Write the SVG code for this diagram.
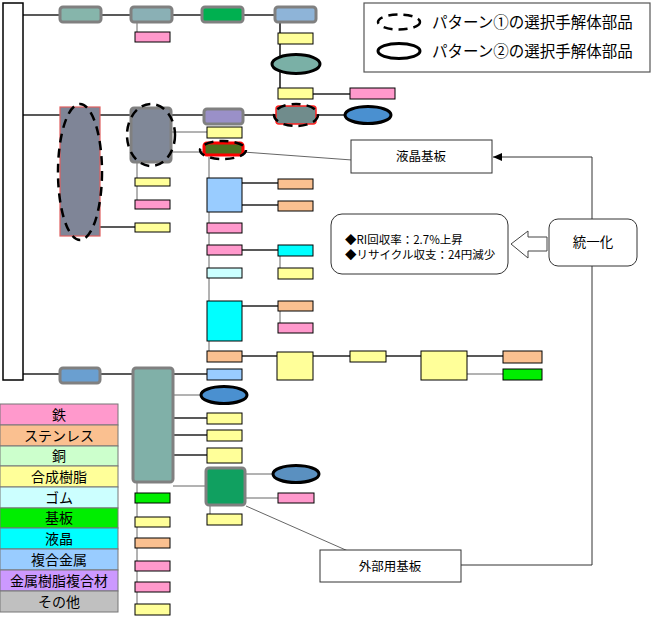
<svg xmlns="http://www.w3.org/2000/svg" width="654" height="629" viewBox="0 0 654 629">
<style>
.g{stroke:#808080;stroke-width:3}
.b{stroke:#000;stroke-width:1}
.ln{stroke:#222;stroke-width:1.6;fill:none}
.lt{stroke:#666;stroke-width:1;fill:none}
.fe{fill:#ff99cc}.fs{fill:#fac090}.fc{fill:#ccffcc}.fp{fill:#ffff99}.fr{fill:#ccffff}.fk{fill:#00ee00}.fl{fill:#00ffff}.fm{fill:#99ccff}.fx{fill:#cc99ff}.fo{fill:#c0c0c0}
.d1{fill:none;stroke:#000;stroke-width:2.5;stroke-dasharray:9 6}
.d2{fill:none;stroke:#000;stroke-width:3}
.t{font-family:"Noto Sans CJK JP","Liberation Sans",sans-serif;fill:#000}
.lg{stroke:#777;stroke-width:1}
</style>
<defs>
<marker id="ah" markerWidth="10" markerHeight="10" refX="9" refY="5" orient="auto" markerUnits="userSpaceOnUse"><path d="M0,1 L9,5 L0,9 Z" fill="#000"/></marker>
</defs>

<g id="connectors">
<path class="ln" d="M23,15 H275"/>
<path class="lt" d="M137,23 V32"/>
<path class="ln" d="M280,23 V94"/>
<path class="ln" d="M313,94 H350"/>
<path class="ln" d="M23,115 H350"/>
<path class="ln" d="M100,227 H135"/>
<path class="lt" d="M137,162 V205"/>
<path class="lt" d="M172,132 H207"/>
<path class="lt" d="M172,152 H205"/>
<path class="lt" d="M209,157 V356"/>
<path class="ln" d="M242,183 H278"/>
<path class="ln" d="M242,205 H278"/>
<path class="ln" d="M242,250 H278"/>
<path class="lt" d="M280,256 V270"/>
<path class="ln" d="M242,306 H278"/>
<path class="lt" d="M280,311 V325"/>
<path class="ln" d="M242,356 H277"/>
<path class="ln" d="M313,356 H350"/>
<path class="ln" d="M386,356 H421"/>
<path class="ln" d="M467,356 H503"/>
<path class="lt" d="M467,374 H503"/>
<path class="ln" d="M23,374 H132"/>
<path class="ln" d="M173,374 H207"/>
<path class="lt" d="M173,395 H201"/>
<path class="ln" d="M173,418 H207"/>
<path class="ln" d="M173,435 H207"/>
<path class="ln" d="M173,455 H207"/>
<path class="lt" d="M173,486 H205"/>
<path class="lt" d="M137,482 V610"/>
<path class="lt" d="M245,474 H272"/>
<path class="lt" d="M245,498 H278"/>
<path class="lt" d="M210,505 V514"/>
<path class="lt" d="M243,152 L352,160" stroke="#333"/>
<path class="lt" d="M246,506 L348,551" stroke="#333"/>
<path d="M592,219 V157 H493" fill="none" stroke="#333" stroke-width="1" marker-end="url(#ah)"/>
<path d="M592,266 V565 H461" fill="none" stroke="#333" stroke-width="1"/>
</g>

<g id="root"><rect x="3" y="3" width="20" height="377" fill="#fff" stroke="#000" stroke-width="1.5"/></g>

<g id="n1"><rect class="g" x="60" y="7" width="41" height="15" rx="3" fill="#86b5ab"/></g>
<g id="n2"><rect class="g" x="131" y="7" width="41" height="15" rx="3" fill="#8ab0b5"/></g>
<g id="n2a"><rect class="b fe" x="135" y="32" width="35" height="10"/></g>
<g id="n3"><rect class="g" x="202" y="7" width="41" height="15" rx="3" fill="#00b050"/></g>
<g id="n4"><rect class="g" x="275" y="7" width="41" height="15" rx="3" fill="#8eb4d8"/></g>
<g id="n4a"><rect class="b fp" x="278" y="33" width="35" height="11"/></g>
<g id="n4b"><ellipse cx="296" cy="64" rx="24" ry="9.5" fill="#7ab0a6"/><ellipse class="d2" cx="296" cy="64" rx="24" ry="9.5"/></g>
<g id="n4c"><rect class="b fp" x="278" y="88" width="35" height="11"/></g>
<g id="n4d"><rect class="b fe" x="350" y="88" width="45" height="11"/></g>

<g id="n5"><rect x="60" y="107" width="40" height="129" fill="#7f8597" stroke="#e06060" stroke-width="1.2"/><ellipse class="d1" cx="80" cy="172" rx="22" ry="68"/></g>
<g id="n6"><rect class="g" x="131" y="108" width="40" height="54" rx="3" fill="#808898"/><ellipse class="d1" cx="151" cy="135" rx="24" ry="31"/></g>
<g id="n6a"><rect class="b fp" x="135" y="178" width="35" height="8"/></g>
<g id="n6b"><rect class="b fe" x="135" y="200" width="35" height="9"/></g>
<g id="n5a"><rect class="b fp" x="135" y="223" width="35" height="9"/></g>
<g id="n7"><rect class="g" x="204" y="109" width="39" height="15" rx="3" fill="#9a90c8"/></g>
<g id="n8"><rect x="276" y="106" width="40" height="18" rx="3" fill="#708c8c" stroke="#ff2020" stroke-width="1.5"/><ellipse class="d1" cx="296" cy="115" rx="22" ry="11"/></g>
<g id="n9"><ellipse cx="368" cy="115" rx="23" ry="8.5" fill="#4a90d0"/><ellipse class="d2" cx="368" cy="115" rx="23" ry="8.5"/></g>
<g id="n10"><rect class="b fp" x="207" y="127" width="35" height="11"/></g>
<g id="n11"><rect x="204" y="143" width="39" height="12" rx="3" fill="#4c7020" stroke="#ff0000" stroke-width="3"/><ellipse class="d1" cx="223" cy="150" rx="23" ry="9"/></g>
<g id="n12"><rect class="b fm" x="207" y="178" width="35" height="34"/></g>
<g id="n12a"><rect class="b fs" x="278" y="179" width="35" height="10"/></g>
<g id="n12b"><rect class="b fs" x="278" y="201" width="35" height="10"/></g>
<g id="n13"><rect class="b fe" x="207" y="223" width="35" height="10"/></g>
<g id="n14"><rect class="b fe" x="207" y="245" width="35" height="10"/></g>
<g id="n14a"><rect class="b fl" x="278" y="245" width="35" height="11"/></g>
<g id="n14b"><rect class="b fp" x="278" y="268" width="35" height="11"/></g>
<g id="n15"><rect class="b fr" x="207" y="268" width="35" height="10"/></g>
<g id="n16"><rect class="b fl" x="207" y="301" width="35" height="40"/></g>
<g id="n16a"><rect class="b fs" x="278" y="301" width="35" height="10"/></g>
<g id="n16b"><rect class="b fe" x="278" y="323" width="35" height="10"/></g>
<g id="n17"><rect class="b fs" x="207" y="351" width="35" height="11"/></g>
<g id="n18"><rect class="b fp" x="277" y="352" width="36" height="28"/></g>
<g id="n19"><rect class="b fp" x="350" y="351" width="36" height="11"/></g>
<g id="n20"><rect class="b fp" x="421" y="351" width="46" height="29"/></g>
<g id="n21"><rect class="b fs" x="503" y="351" width="39" height="12"/></g>
<g id="n22"><rect class="b fk" x="503" y="369" width="39" height="11"/></g>

<g id="n23"><rect class="g" x="60" y="368" width="40" height="15" rx="3" fill="#6a9fd0"/></g>
<g id="n24"><rect class="g" x="133" y="368" width="40" height="114" rx="3" fill="#80b0a8"/></g>
<g id="n24a"><rect class="b fm" x="207" y="369" width="35" height="11"/></g>
<g id="n24b"><ellipse cx="224" cy="395" rx="23" ry="8.5" fill="#4a90d0"/><ellipse class="d2" cx="224" cy="395" rx="23" ry="8.5"/></g>
<g id="n24c"><rect class="b fp" x="207" y="413" width="35" height="11"/></g>
<g id="n24d"><rect class="b fp" x="207" y="430" width="35" height="11"/></g>
<g id="n24e"><rect class="b fp" x="207" y="448" width="35" height="15"/></g>
<g id="n25"><rect class="g" x="206" y="468" width="39" height="37" rx="3" fill="#10a060"/></g>
<g id="n25a"><ellipse cx="296" cy="474" rx="23" ry="8.5" fill="#5a90c0"/><ellipse class="d2" cx="296" cy="474" rx="23" ry="8.5"/></g>
<g id="n25b"><rect class="b fe" x="278" y="493" width="36" height="10"/></g>
<g id="n25c"><rect class="b fp" x="207" y="514" width="35" height="11"/></g>
<g id="n26"><rect class="b fk" x="135" y="493" width="35" height="10"/></g>
<g id="n27"><rect class="b fp" x="135" y="517" width="35" height="10"/></g>
<g id="n28"><rect class="b fs" x="135" y="538" width="35" height="10"/></g>
<g id="n29"><rect class="b fe" x="135" y="561" width="35" height="10"/></g>
<g id="n30"><rect class="b fe" x="135" y="582" width="35" height="10"/></g>
<g id="n31"><rect class="b fp" x="135" y="604" width="35" height="11"/></g>

<g id="legend-pattern">
<rect x="364" y="3" width="286" height="69" fill="#fff" stroke="#555" stroke-width="1.2"/>
<ellipse class="d1" cx="399" cy="22" rx="21" ry="7.5" stroke-dasharray="7 5" stroke-width="2"/>
<ellipse class="d2" cx="399" cy="51" rx="21" ry="7.5" stroke-width="2.5"/>
<text class="t" x="432" y="28" font-size="15.5">パターン①の選択手解体部品</text>
<text class="t" x="432" y="57" font-size="15.5">パターン②の選択手解体部品</text>
</g>

<g id="legend-material" class="t" font-size="14" text-anchor="middle">
<rect class="lg fe" x="0" y="404" width="118" height="21"/><text x="59" y="420">鉄</text>
<rect class="lg fs" x="0" y="425" width="118" height="21"/><text x="59" y="441">ステンレス</text>
<rect class="lg fc" x="0" y="446" width="118" height="20"/><text x="59" y="461">銅</text>
<rect class="lg fp" x="0" y="466" width="118" height="21"/><text x="59" y="482">合成樹脂</text>
<rect class="lg fr" x="0" y="487" width="118" height="21"/><text x="59" y="503">ゴム</text>
<rect class="lg fk" x="0" y="508" width="118" height="20"/><text x="59" y="523">基板</text>
<rect class="lg fl" x="0" y="528" width="118" height="21"/><text x="59" y="544">液晶</text>
<rect class="lg fm" x="0" y="549" width="118" height="21"/><text x="59" y="565">複合金属</text>
<rect class="lg fx" x="0" y="570" width="118" height="21"/><text x="59" y="586">金属樹脂複合材</text>
<rect class="lg fo" x="0" y="591" width="118" height="21"/><text x="59" y="607">その他</text>
</g>

<g id="callout-lcd"><rect x="351" y="140" width="141" height="33" fill="#fff" stroke="#333" stroke-width="1"/><text class="t" x="421" y="161" font-size="12.5" text-anchor="middle">液晶基板</text></g>
<g id="callout-ext"><rect x="320" y="550" width="141" height="32" fill="#fff" stroke="#333" stroke-width="1"/><text class="t" x="390" y="571" font-size="12.5" text-anchor="middle">外部用基板</text></g>
<g id="unify"><rect x="549" y="219" width="88" height="47" rx="9" fill="#fff" stroke="#333" stroke-width="1"/><text class="t" x="593" y="247" font-size="13.5" text-anchor="middle">統一化</text></g>
<g id="info"><rect x="331" y="214" width="177" height="60" rx="11" fill="#fff" stroke="#333" stroke-width="1"/>
<text class="t" x="345" y="244" font-size="11.5">◆RI回収率：2.7%上昇</text>
<text class="t" x="345" y="259" font-size="11.5">◆リサイクル収支：24円減少</text></g>
<g id="hollow-arrow"><path d="M511,244 L528,231 V237 H547 V251 H528 V258 Z" fill="#fff" stroke="#444" stroke-width="1"/></g>
</svg>
